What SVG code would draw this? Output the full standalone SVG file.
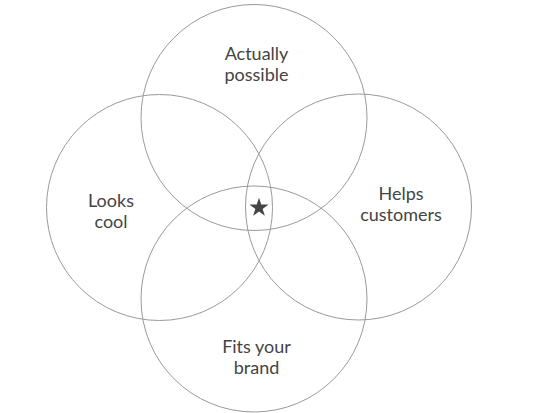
<svg xmlns="http://www.w3.org/2000/svg" width="550" height="413" viewBox="0 0 550 413">
<style>
.c{fill:none;stroke:#9a9a9a;stroke-width:1}
.t{font-family:Lato,"Open Sans","Liberation Sans",sans-serif;font-size:18px;fill:#444;text-anchor:middle}
</style>
<rect width="550" height="413" fill="#fff"/>
<g id="top"><circle class="c" cx="254" cy="117.5" r="113"/>
<text class="t" x="256.5" y="60">Actually</text><text class="t" x="256.5" y="80.5">possible</text></g>
<g id="left"><circle class="c" cx="159.5" cy="207.5" r="113"/>
<text class="t" x="111" y="206.5">Looks</text><text class="t" x="111" y="227.5">cool</text></g>
<g id="right"><circle class="c" cx="358.5" cy="207" r="113"/>
<text class="t" x="401" y="199.5">Helps</text><text class="t" x="401" y="220.5">customers</text></g>
<g id="bottom"><circle class="c" cx="254" cy="299" r="113"/>
<text class="t" x="256.5" y="352.5">Fits your</text><text class="t" x="256.5" y="373.5">brand</text></g>
<g id="star"><polygon fill="#444" points="259,197.7 261.25,204.61 268.51,204.61 262.63,208.88 264.88,215.79 259,211.52 253.12,215.79 255.37,208.88 249.49,204.61 256.75,204.61"/></g>
<g id="connectors"/>
</svg>
